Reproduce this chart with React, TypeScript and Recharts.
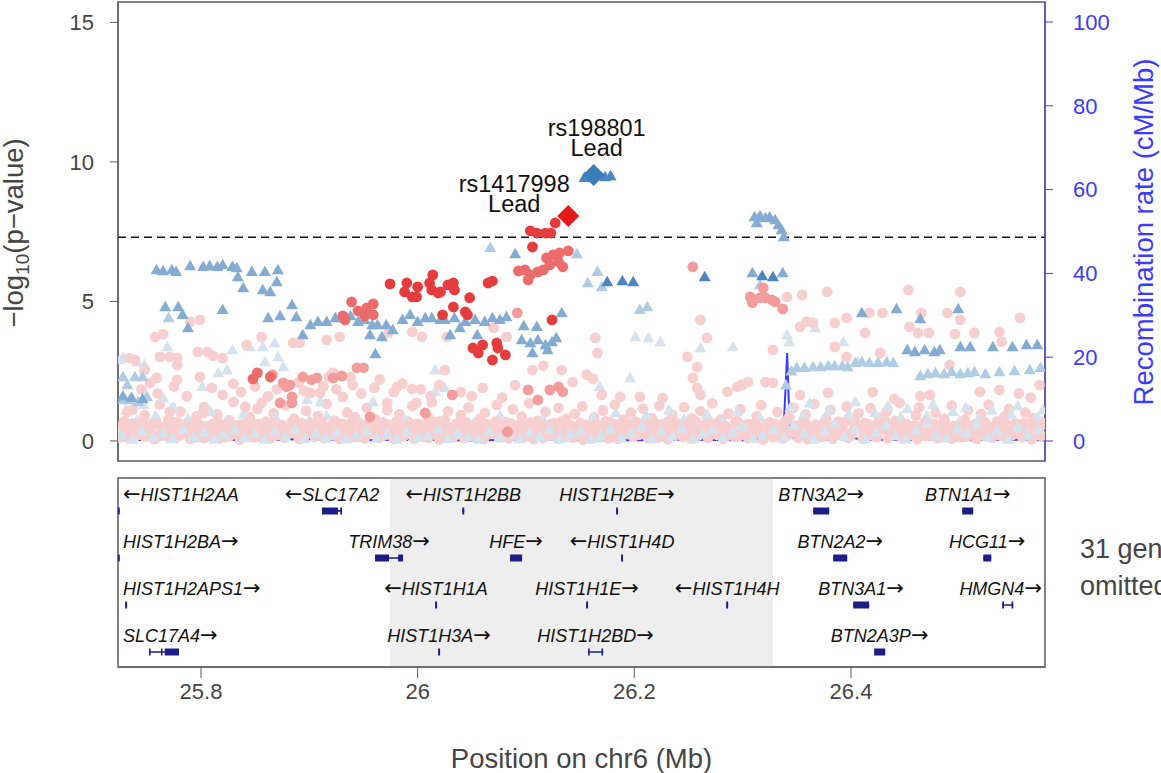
import React from 'react';
import {
  ComposedChart,
  Scatter,
  Line,
  XAxis,
  YAxis,
  ReferenceLine,
  ReferenceArea,
} from 'recharts';

// ---- region / axes ----
const X_DOMAIN = [25.7234, 26.5791]; // Mb on chr6
const X_TICKS = [25.8, 26, 26.2, 26.4];
const P_TICKS = [0, 5, 10, 15];
const RATE_TICKS = [0, 20, 40, 60, 80, 100];
const P_DOMAIN = [-0.72, 15.73];
const RATE_DOMAIN = [-4.77, 104.77];
const GW_THRESHOLD = 7.3;
const HIGHLIGHT = [25.9745, 26.328];
const OMITTED_GENES = 31;

// ---- SNPs in LD with rs198801 (triangles), [position Mb, -log10 p] ----
const BLUE_DARK = [
  [26.154, 9.43], [26.173, 9.46], [26.178, 9.5], [26.175, 5.7], [26.189, 5.73],
  [26.199, 5.7], [26.265, 5.88], [26.318, 5.91], [26.328, 5.88],
];
const BLUE_MED = [
  [25.759, 6.13], [25.765, 6.09], [25.773, 6.13], [25.777, 6.06], [25.79, 6.27],
  [25.802, 6.24], [25.808, 6.27], [25.815, 6.24], [25.82, 6.31], [25.829, 6.24],
  [25.833, 6.2], [25.847, 6.06], [25.859, 6.06], [25.871, 6.13], [25.834, 5.88],
  [25.839, 5.48], [25.857, 5.41], [25.864, 5.34], [25.87, 5.7], [25.767, 4.8],
  [25.779, 4.8], [25.783, 4.52], [25.82, 4.7], [25.788, 4.05],
  [25.862, 4.41], [25.873, 4.48], [25.884, 4.87], [25.888, 4.44], [25.901, 4.16],
  [25.908, 4.27], [25.916, 4.27], [25.924, 4.41], [25.928, 4.41], [25.938, 4.48],
  [25.945, 4.27], [25.951, 4.34], [25.958, 4.16], [25.963, 4.16], [25.971, 4.16],
  [25.977, 3.98], [25.986, 4.34], [25.993, 4.52], [26.0, 4.27], [26.007, 4.41],
  [26.013, 4.41], [26.021, 4.34], [25.894, 3.8], [25.956, 3.8], [25.967, 3.73],
  [25.961, 3.12], [26.025, 4.34], [26.034, 4.41], [26.044, 4.27], [26.053, 4.34],
  [26.062, 4.27], [26.069, 4.41], [26.076, 4.34], [26.082, 4.44], [26.03, 3.8],
  [26.055, 3.8], [26.039, 4.05], [26.098, 4.12], [26.11, 4.09], [26.096, 3.62],
  [26.104, 3.51], [26.111, 3.62], [26.118, 3.44], [26.124, 3.55], [26.128, 3.69],
  [26.12, 3.26], [26.106, 3.15], [26.133, 4.59], [26.09, 6.7],
  [26.311, 8.03], [26.316, 8.06], [26.321, 7.99], [26.325, 8.03], [26.33, 7.92],
  [26.333, 7.74], [26.336, 7.56], [26.338, 7.31], [26.313, 7.81], [26.309, 6.02],
  [26.337, 6.02],
  [26.452, 3.26], [26.459, 3.19], [26.468, 3.26], [26.477, 3.19], [26.482, 3.26],
  [26.501, 3.37], [26.51, 3.37], [26.531, 3.37], [26.549, 3.37], [26.562, 3.44],
  [26.572, 3.44], [26.41, 4.59], [26.442, 4.73], [26.464, 4.37], [26.499, 4.73],
  [25.728, 1.6], [25.736, 1.55], [25.746, 1.5],
];
const BLUE_LIGHT = [
  [25.77, 4.41], [26.067, 6.92], [26.147, 6.7], [26.166, 6.06], [26.157, 5.66],
  [26.17, 5.52], [26.205, 4.7], [26.212, 4.8], [26.316, 5.59],
  [25.728, 2.29], [25.739, 2.29], [25.746, 2.29], [25.732, 2.01], [25.728, 1.47],
  [25.734, 1.47], [25.742, 1.4], [25.75, 1.58],
  [26.35, 2.62], [26.357, 2.62], [26.365, 2.65], [26.372, 2.65], [26.379, 2.69],
  [26.385, 2.69], [26.392, 2.69], [26.397, 2.65], [26.404, 2.8], [26.41, 2.83],
  [26.417, 2.8], [26.425, 2.8], [26.433, 2.83], [26.439, 2.8], [26.464, 2.33],
  [26.471, 2.4], [26.478, 2.44], [26.486, 2.4], [26.493, 2.47], [26.501, 2.4],
  [26.508, 2.44], [26.514, 2.47], [26.524, 2.4], [26.537, 2.47], [26.551, 2.51],
  [26.565, 2.54], [26.575, 2.62], [26.34, 2.0], [26.345, 2.5],
];
const BLUE_PALE = [
  [25.728, 2.97], [25.741, 2.83], [25.748, 2.72], [25.769, 3.37], [25.829, 3.26],
  [25.845, 3.37], [25.857, 3.37], [25.868, 3.51], [25.859, 2.83], [25.871, 3.01],
  [25.876, 2.65], [25.824, 2.54], [25.816, 2.44], [26.016, 2.54], [25.801, 1.94],
  [25.765, 1.54], [25.773, 1.18], [25.898, 1.47], [25.91, 1.4], [25.959, 1.4],
  [26.016, 1.76], [26.201, 3.73], [26.213, 3.69], [26.224, 3.55], [26.261, 3.33],
  [26.291, 3.37], [26.367, 4.05], [26.341, 3.8], [26.343, 3.55], [26.393, 3.55],
  [26.406, 2.83], [26.196, 2.26], [26.168, 1.94], [26.025, 1.9], [25.725, 2.9],
];
const BLUE_PALE_BAND = [
  [25.726, 0.45], [25.731, 1.1], [25.736, 0.2], [25.741, 0.75], [25.747, 1.3],
  [25.752, 0.35], [25.758, 0.9], [25.763, 0.15], [25.769, 0.6], [25.775, 1.2],
  [25.781, 0.3], [25.788, 0.8], [25.795, 0.1], [25.802, 0.55], [25.809, 1.05],
  [25.816, 0.25], [25.824, 0.7], [25.831, 0.4], [25.839, 0.95], [25.846, 0.15],
  [25.854, 0.62], [25.861, 0.3], [25.869, 0.85], [25.876, 0.2], [25.884, 0.5],
  [25.892, 0.12], [25.9, 0.72], [25.908, 0.28], [25.916, 0.9], [25.924, 0.18],
  [25.932, 0.45], [25.94, 0.1], [25.948, 0.66], [25.956, 0.32], [25.964, 0.15],
  [25.972, 0.58], [25.98, 0.22], [25.988, 0.8], [25.996, 0.12], [26.004, 0.4],
  [26.012, 0.25], [26.02, 0.7], [26.028, 0.1], [26.036, 0.48], [26.044, 0.2],
  [26.052, 0.65], [26.06, 0.14], [26.068, 0.38], [26.076, 0.9], [26.084, 0.2],
  [26.092, 0.55], [26.1, 0.12], [26.108, 0.3], [26.116, 0.75], [26.124, 0.16],
  [26.132, 0.45], [26.14, 0.1], [26.148, 0.62], [26.155, 0.28], [26.162, 0.85],
  [26.169, 0.15], [26.176, 0.5], [26.183, 1.0], [26.19, 0.22], [26.197, 0.68],
  [26.204, 0.35], [26.211, 0.9], [26.218, 0.14], [26.225, 0.6], [26.232, 1.1],
  [26.239, 0.3], [26.246, 0.78], [26.253, 0.18], [26.26, 0.52], [26.267, 0.95],
  [26.274, 0.25], [26.281, 0.7], [26.288, 0.4], [26.295, 1.05], [26.302, 0.2],
  [26.309, 0.6], [26.316, 0.85], [26.323, 0.32], [26.33, 0.12], [26.337, 0.7],
  [26.344, 1.2], [26.35, 0.45], [26.356, 0.9], [26.362, 1.35], [26.368, 0.3],
  [26.374, 0.75], [26.38, 1.1], [26.386, 0.5], [26.392, 0.2], [26.398, 0.95],
  [26.404, 1.4], [26.41, 0.6], [26.416, 0.25], [26.422, 1.0], [26.428, 0.7],
  [26.434, 1.25], [26.44, 0.35], [26.446, 0.85], [26.452, 1.15], [26.458, 0.45],
  [26.464, 0.15], [26.47, 0.9], [26.476, 1.3], [26.482, 0.55], [26.488, 0.25],
  [26.494, 1.05], [26.5, 0.7], [26.506, 1.2], [26.512, 0.4], [26.518, 0.8],
  [26.524, 0.18], [26.53, 1.1], [26.536, 0.6], [26.542, 0.3], [26.548, 0.95],
  [26.554, 1.25], [26.56, 0.5], [26.566, 0.2], [26.572, 0.85], [26.577, 1.1],
];
const BLUE_PALE_FLOOR = [
  [25.727, 0.2], [25.737, 0.05], [25.746, 0.35], [25.756, 0.12], [25.765, 0.28],
  [25.774, 0.08], [25.784, 0.4], [25.793, 0.15], [25.803, 0.3], [25.812, 0.06],
  [25.821, 0.22], [25.831, 0.38], [25.84, 0.1], [25.85, 0.26], [25.859, 0.05],
  [25.868, 0.33], [25.878, 0.14], [25.887, 0.42], [25.896, 0.08], [25.906, 0.24],
  [25.915, 0.1], [25.925, 0.3], [25.934, 0.06], [25.943, 0.2], [25.953, 0.36],
  [25.962, 0.09], [25.972, 0.25], [25.981, 0.05], [25.99, 0.32], [26.0, 0.12],
  [26.009, 0.18], [26.019, 0.4], [26.028, 0.07], [26.037, 0.27], [26.047, 0.13],
  [26.056, 0.05], [26.066, 0.34], [26.075, 0.1], [26.084, 0.22], [26.094, 0.06],
  [26.103, 0.3], [26.113, 0.15], [26.122, 0.4], [26.131, 0.08], [26.141, 0.25],
  [26.15, 0.35], [26.16, 0.05], [26.169, 0.2], [26.178, 0.42], [26.188, 0.1],
  [26.197, 0.28], [26.207, 0.5], [26.216, 0.07], [26.225, 0.32], [26.235, 0.16],
  [26.244, 0.45], [26.254, 0.06], [26.263, 0.24], [26.272, 0.38], [26.282, 0.11],
  [26.291, 0.3], [26.3, 0.52], [26.31, 0.08], [26.319, 0.2], [26.329, 0.4],
  [26.338, 0.12], [26.347, 0.55], [26.357, 0.25], [26.366, 0.05], [26.376, 0.35],
  [26.385, 0.6], [26.394, 0.15], [26.404, 0.42], [26.413, 0.08], [26.423, 0.3],
  [26.432, 0.55], [26.441, 0.18], [26.451, 0.05], [26.46, 0.38], [26.47, 0.62],
  [26.479, 0.2], [26.488, 0.1], [26.498, 0.45], [26.507, 0.28], [26.516, 0.6],
  [26.526, 0.12], [26.535, 0.35], [26.545, 0.05], [26.554, 0.5], [26.563, 0.22],
  [26.573, 0.4],
];

// ---- SNPs in LD with rs1417998 (circles) ----
const RED_STRONG = [
  [25.9745, 5.63], [25.99, 5.66], [25.988, 5.34], [25.995, 5.16], [26.0, 5.52],
  [25.999, 5.16], [26.011, 5.66], [26.014, 5.95], [26.013, 5.41], [26.019, 5.3],
  [26.021, 5.34], [26.028, 5.59], [26.033, 5.66], [26.034, 5.41], [26.048, 5.13],
  [26.065, 5.66], [26.069, 5.73], [26.033, 4.8], [26.023, 4.52], [26.044, 4.62],
  [26.046, 4.52], [26.051, 3.33], [26.056, 3.15], [26.06, 3.44], [26.073, 3.51],
  [26.074, 3.33], [26.081, 3.08], [26.069, 2.9], [26.124, 4.34], [26.104, 7.53],
  [26.11, 7.45], [26.118, 7.45], [26.123, 7.45], [26.127, 7.81], [26.106, 6.95],
];
const RED_MED = [
  [25.939, 4.98], [25.945, 4.66], [25.953, 4.77], [25.959, 4.91], [25.959, 4.52],
  [25.951, 4.48], [25.931, 4.48], [25.933, 4.34], [26.093, 6.09], [26.099, 6.13],
  [26.104, 5.95], [26.111, 6.06], [26.116, 6.13], [26.119, 6.56], [26.125, 6.67],
  [26.131, 6.74], [26.139, 6.81], [26.122, 6.31], [26.13, 6.42], [26.134, 6.24],
  [26.102, 5.77], [25.848, 2.22], [25.852, 2.44], [25.864, 2.29],
];
const RED_LIGHT = [
  [25.944, 2.62], [25.95, 2.62], [25.866, 2.37], [25.876, 2.08], [25.879, 1.94],
  [25.884, 1.58], [25.882, 2.01], [25.894, 2.29], [25.902, 2.19], [25.907, 2.26],
  [25.922, 2.26], [25.93, 2.33], [25.873, 1.36], [25.884, 1.36], [25.956, 0.86],
  [26.007, 1.0], [26.032, 1.65], [26.102, 1.83], [26.111, 1.47], [26.122, 1.83],
  [26.13, 1.94], [26.134, 1.76], [26.092, 4.59], [26.083, 0.32], [26.254, 6.24],
  [26.307, 5.16], [26.309, 4.95], [26.316, 5.13], [26.321, 5.13], [26.327, 5.05],
  [26.33, 4.98], [26.319, 5.48], [26.337, 4.73],
];
const PINK = [
  [25.79, 4.27], [25.799, 4.34], [25.758, 3.73], [25.765, 3.83], [25.762, 3.01],
  [25.771, 3.01], [25.778, 2.97], [25.778, 2.72], [25.734, 2.97], [25.797, 3.19],
  [25.806, 3.19], [25.811, 3.05], [25.82, 2.97], [25.856, 3.73], [25.842, 3.44],
  [25.885, 3.51], [25.891, 3.51], [25.916, 3.62], [25.928, 3.73], [25.973, 3.87],
  [25.995, 3.91], [26.004, 3.73], [25.799, 2.29], [25.778, 2.19], [25.759, 2.26],
  [25.753, 2.08], [25.981, 1.94], [25.995, 1.86], [25.922, 2.44], [25.938, 2.29],
  [25.901, 1.72], [25.856, 1.36], [25.841, 1.22], [25.802, 1.0], [25.771, 1.04],
  [25.732, 1.04], [25.91, 1.72], [25.931, 1.58], [25.972, 1.36], [25.999, 1.36],
  [26.164, 3.69], [26.166, 3.15], [26.156, 2.37], [26.162, 2.22], [26.143, 2.11],
  [26.106, 2.54], [26.116, 2.69], [26.133, 2.54], [26.261, 4.34], [26.267, 3.69],
  [26.249, 3.01], [26.258, 2.65], [26.254, 2.26], [26.258, 1.9], [26.261, 1.65],
  [26.17, 1.65], [26.187, 1.58], [26.205, 1.58], [26.226, 1.54], [26.286, 1.76],
  [26.295, 1.94], [26.3, 2.01], [26.305, 2.11], [26.025, 2.54], [26.027, 3.73],
  [26.07, 4.05], [26.082, 3.73],
  [26.378, 5.34], [26.453, 5.41], [26.501, 5.34], [26.355, 5.23], [26.341, 5.16],
  [26.396, 4.41], [26.417, 4.59], [26.429, 4.59], [26.465, 4.59], [26.489, 4.59],
  [26.501, 4.34], [26.556, 4.41], [26.359, 4.27], [26.365, 4.23], [26.353, 4.09],
  [26.385, 4.23], [26.413, 3.87], [26.454, 4.09], [26.462, 3.87], [26.472, 3.87],
  [26.496, 3.83], [26.514, 3.87], [26.537, 3.91], [26.539, 3.55], [26.427, 3.15],
  [26.396, 3.01], [26.385, 3.37], [26.328, 3.26], [26.328, 2.08], [26.321, 2.11],
  [26.299, 2.01], [26.379, 1.72], [26.491, 2.72], [26.519, 1.76], [26.537, 1.83],
  [26.353, 1.65], [25.739, 2.9], [25.748, 2.54], [26.464, 1.6], [26.473, 1.65],
  [26.555, 1.7], [26.566, 1.55], [26.574, 2.0], [26.42, 1.75], [26.44, 1.5],
  [25.745, 1.85], [25.76, 1.7], [25.775, 1.95], [25.787, 1.6], [25.81, 1.9],
  [25.82, 1.65], [25.83, 2.05], [25.837, 1.75], [25.85, 1.95], [25.862, 1.6],
  [25.87, 1.85], [25.89, 2.1], [25.895, 1.8], [25.913, 1.95], [25.918, 2.3],
  [25.925, 1.85], [25.94, 2.0], [25.948, 1.7], [25.96, 1.9], [25.965, 2.2],
  [25.978, 1.75], [25.986, 2.05], [26.003, 1.85], [26.012, 1.6], [26.02, 2.0],
  [26.04, 1.75], [26.05, 1.6], [26.06, 1.9], [26.078, 1.55], [26.09, 2.0],
];
const PINK_BAND = [
  [25.726, 0.22], [25.729, 0.71], [25.733, 0.35], [25.737, 1.12], [25.74, 0.18],
  [25.744, 0.52], [25.748, 0.93], [25.751, 0.27], [25.755, 0.64], [25.759, 0.12],
  [25.762, 1.31], [25.766, 0.41], [25.77, 0.78], [25.773, 0.2], [25.777, 0.55],
  [25.781, 1.05], [25.785, 0.3], [25.788, 0.67], [25.792, 0.15], [25.796, 0.88],
  [25.8, 0.44], [25.803, 1.22], [25.807, 0.25], [25.811, 0.6], [25.815, 0.95],
  [25.818, 0.33], [25.822, 0.14], [25.826, 0.74], [25.83, 1.4], [25.833, 0.38],
  [25.837, 0.58], [25.841, 0.21], [25.845, 0.86], [25.848, 0.47], [25.852, 1.15],
  [25.856, 0.16], [25.86, 0.69], [25.863, 0.36], [25.867, 0.99], [25.871, 0.24],
  [25.875, 0.57], [25.878, 1.27], [25.882, 0.42], [25.886, 0.8], [25.89, 0.13],
  [25.893, 0.63], [25.897, 1.08], [25.901, 0.29], [25.905, 0.51], [25.908, 0.9],
  [25.912, 0.19], [25.916, 1.33], [25.92, 0.46], [25.923, 0.73], [25.927, 0.23],
  [25.931, 0.61], [25.935, 1.02], [25.938, 0.34], [25.942, 0.85], [25.946, 0.17],
  [25.95, 0.56], [25.953, 1.19], [25.957, 0.4], [25.961, 0.77], [25.965, 0.26],
  [25.968, 0.66], [25.972, 1.1], [25.976, 0.31], [25.98, 0.53], [25.983, 0.96],
  [25.987, 0.2], [25.991, 0.7], [25.995, 1.25], [25.998, 0.37], [26.002, 0.6],
  [26.006, 0.15], [26.01, 0.83], [26.013, 1.38], [26.017, 0.43], [26.021, 0.28],
  [26.025, 0.75], [26.028, 1.06], [26.032, 0.18], [26.036, 0.59], [26.04, 0.92],
  [26.043, 0.32], [26.047, 1.2], [26.051, 0.5], [26.055, 0.22], [26.058, 0.8],
  [26.062, 1.0], [26.066, 0.35], [26.07, 0.62], [26.073, 1.29], [26.077, 0.14],
  [26.081, 0.68], [26.085, 0.45], [26.088, 1.13], [26.092, 0.27], [26.096, 0.87],
  [26.1, 0.54], [26.103, 1.35], [26.107, 0.2], [26.111, 0.72], [26.115, 0.39],
  [26.118, 1.04], [26.122, 0.3], [26.126, 0.64], [26.13, 1.18], [26.133, 0.16],
  [26.137, 0.79], [26.141, 0.48], [26.145, 0.97], [26.148, 0.25], [26.152, 1.24],
  [26.156, 0.57], [26.16, 0.12], [26.163, 0.84], [26.167, 0.4], [26.171, 1.09],
  [26.175, 0.29], [26.178, 0.66], [26.182, 1.3], [26.186, 0.21], [26.19, 0.76],
  [26.193, 0.5], [26.197, 1.01], [26.201, 0.33], [26.205, 0.6], [26.208, 1.16],
  [26.212, 0.18], [26.216, 0.82], [26.22, 0.44], [26.223, 1.26], [26.227, 0.26],
  [26.231, 0.7], [26.235, 0.94], [26.238, 0.36], [26.242, 0.58], [26.246, 1.21],
  [26.25, 0.15], [26.253, 0.81], [26.257, 0.47], [26.261, 1.07], [26.265, 0.3],
  [26.268, 0.65], [26.272, 1.34], [26.276, 0.22], [26.28, 0.77], [26.283, 0.52],
  [26.287, 0.98], [26.291, 0.19], [26.295, 0.71], [26.298, 1.14], [26.302, 0.38],
  [26.306, 0.6], [26.31, 0.24], [26.313, 0.89], [26.317, 1.28], [26.321, 0.42],
  [26.325, 0.67], [26.328, 0.17], [26.332, 1.03], [26.336, 0.55], [26.34, 0.31],
  [26.343, 0.86], [26.347, 1.19], [26.351, 0.23], [26.355, 0.63], [26.358, 0.95],
  [26.362, 0.37], [26.366, 1.32], [26.37, 0.49], [26.373, 0.14], [26.377, 0.78],
  [26.381, 1.11], [26.385, 0.28], [26.388, 0.69], [26.392, 0.46], [26.396, 1.23],
  [26.4, 0.2], [26.403, 0.74], [26.407, 0.99], [26.411, 0.34], [26.415, 0.61],
  [26.418, 1.17], [26.422, 0.16], [26.426, 0.83], [26.43, 0.51], [26.433, 1.06],
  [26.437, 0.27], [26.441, 0.72], [26.445, 1.36], [26.448, 0.39], [26.452, 0.58],
  [26.456, 0.22], [26.46, 0.91], [26.463, 1.2], [26.467, 0.43], [26.471, 0.66],
  [26.475, 0.18], [26.478, 1.0], [26.482, 0.53], [26.486, 0.8], [26.49, 0.3],
  [26.493, 1.27], [26.497, 0.45], [26.501, 0.13], [26.505, 0.75], [26.508, 1.1],
  [26.512, 0.35], [26.516, 0.62], [26.52, 0.97], [26.523, 0.25], [26.527, 1.3],
  [26.531, 0.48], [26.535, 0.7], [26.538, 0.19], [26.542, 0.88], [26.546, 1.15],
  [26.55, 0.4], [26.553, 0.6], [26.557, 0.28], [26.561, 1.02], [26.565, 0.5],
  [26.568, 0.82], [26.572, 0.21], [26.576, 0.65],
];
const PINK_FLOOR = [
  [25.725, 0.12], [25.73, 0.38], [25.734, 0.08], [25.739, 0.27], [25.744, 0.45],
  [25.748, 0.15], [25.753, 0.33], [25.757, 0.06], [25.762, 0.22], [25.767, 0.41],
  [25.771, 0.1], [25.776, 0.3], [25.78, 0.18], [25.785, 0.44], [25.79, 0.07],
  [25.794, 0.25], [25.799, 0.36], [25.803, 0.11], [25.808, 0.2], [25.813, 0.42],
  [25.817, 0.09], [25.822, 0.31], [25.826, 0.16], [25.831, 0.39], [25.836, 0.05],
  [25.84, 0.24], [25.845, 0.35], [25.849, 0.13], [25.854, 0.28], [25.859, 0.46],
  [25.863, 0.08], [25.868, 0.19], [25.872, 0.37], [25.877, 0.12], [25.882, 0.29],
  [25.886, 0.43], [25.891, 0.06], [25.895, 0.23], [25.9, 0.34], [25.905, 0.14],
  [25.909, 0.4], [25.914, 0.1], [25.918, 0.26], [25.923, 0.45], [25.928, 0.07],
  [25.932, 0.21], [25.937, 0.32], [25.941, 0.15], [25.946, 0.38], [25.951, 0.09],
  [25.955, 0.27], [25.96, 0.44], [25.964, 0.11], [25.969, 0.2], [25.974, 0.36],
  [25.978, 0.06], [25.983, 0.3], [25.987, 0.17], [25.992, 0.41], [25.997, 0.08],
  [26.001, 0.24], [26.006, 0.33], [26.01, 0.12], [26.015, 0.39], [26.02, 0.05],
  [26.024, 0.22], [26.029, 0.43], [26.033, 0.14], [26.038, 0.28], [26.043, 0.1],
  [26.047, 0.35], [26.052, 0.19], [26.056, 0.46], [26.061, 0.07], [26.066, 0.25],
  [26.07, 0.31], [26.075, 0.13], [26.079, 0.4], [26.084, 0.09], [26.089, 0.21],
  [26.093, 0.37], [26.098, 0.16], [26.102, 0.29], [26.107, 0.06], [26.112, 0.42],
  [26.116, 0.11], [26.121, 0.26], [26.125, 0.34], [26.13, 0.08], [26.135, 0.2],
  [26.139, 0.45], [26.144, 0.13], [26.148, 0.3], [26.153, 0.05], [26.158, 0.38],
  [26.162, 0.17], [26.167, 0.23], [26.171, 0.41], [26.176, 0.1], [26.181, 0.32],
  [26.185, 0.07], [26.19, 0.27], [26.194, 0.44], [26.199, 0.15], [26.204, 0.22],
  [26.208, 0.36], [26.213, 0.09], [26.217, 0.29], [26.222, 0.12], [26.227, 0.4],
  [26.231, 0.06], [26.236, 0.24], [26.24, 0.33], [26.245, 0.14], [26.25, 0.43],
  [26.254, 0.08], [26.259, 0.2], [26.263, 0.35], [26.268, 0.11], [26.273, 0.28],
  [26.277, 0.46], [26.282, 0.07], [26.286, 0.19], [26.291, 0.31], [26.296, 0.16],
  [26.3, 0.39], [26.305, 0.1], [26.309, 0.25], [26.314, 0.42], [26.319, 0.05],
  [26.323, 0.3], [26.328, 0.13], [26.332, 0.37], [26.337, 0.09], [26.342, 0.21],
  [26.346, 0.34], [26.351, 0.12], [26.355, 0.44], [26.36, 0.06], [26.365, 0.26],
  [26.369, 0.32], [26.374, 0.15], [26.378, 0.4], [26.383, 0.08], [26.388, 0.23],
  [26.392, 0.36], [26.397, 0.11], [26.401, 0.29], [26.406, 0.45], [26.411, 0.07],
  [26.415, 0.18], [26.42, 0.33], [26.424, 0.14], [26.429, 0.41], [26.434, 0.09],
  [26.438, 0.27], [26.443, 0.38], [26.447, 0.12], [26.452, 0.22], [26.457, 0.43],
  [26.461, 0.06], [26.466, 0.3], [26.47, 0.17], [26.475, 0.35], [26.48, 0.1],
  [26.484, 0.24], [26.489, 0.46], [26.493, 0.08], [26.498, 0.2], [26.503, 0.31],
  [26.507, 0.15], [26.512, 0.39], [26.516, 0.07], [26.521, 0.26], [26.526, 0.42],
  [26.53, 0.12], [26.535, 0.28], [26.539, 0.34], [26.544, 0.09], [26.549, 0.21],
  [26.553, 0.44], [26.558, 0.13], [26.562, 0.3], [26.567, 0.06], [26.572, 0.37],
  [26.576, 0.18],
];
const PINK_FLOOR_2 = [
  [25.7275, 0.55], [25.732, 0.2], [25.7365, 0.62], [25.7415, 0.4], [25.746, 0.7],
  [25.7505, 0.5], [25.755, 0.25], [25.7595, 0.6], [25.7645, 0.35], [25.769, 0.58],
  [25.7735, 0.48], [25.778, 0.68], [25.7825, 0.3], [25.787, 0.55], [25.792, 0.42],
  [25.7965, 0.65], [25.801, 0.2], [25.8055, 0.52], [25.8105, 0.38], [25.815, 0.7],
  [25.8195, 0.45], [25.824, 0.6], [25.8285, 0.28], [25.8335, 0.56], [25.838, 0.46],
  [25.8425, 0.66], [25.847, 0.32], [25.8515, 0.6], [25.8565, 0.22], [25.861, 0.5],
  [25.8655, 0.64], [25.87, 0.4], [25.8745, 0.55], [25.8795, 0.3], [25.884, 0.68],
  [25.8885, 0.48], [25.893, 0.58], [25.8975, 0.26], [25.9025, 0.62], [25.907, 0.44],
  [25.9115, 0.7], [25.916, 0.36], [25.9205, 0.54], [25.9255, 0.22], [25.93, 0.6],
  [25.9345, 0.5], [25.939, 0.66], [25.9435, 0.3], [25.9485, 0.56], [25.953, 0.42],
  [25.9575, 0.64], [25.962, 0.27], [25.9665, 0.52], [25.9715, 0.6], [25.976, 0.4],
  [25.9805, 0.7], [25.985, 0.33], [25.9895, 0.56], [25.9945, 0.47], [25.999, 0.62],
  [26.0035, 0.25], [26.008, 0.58], [26.0125, 0.45], [26.0175, 0.68], [26.022, 0.35],
  [26.0265, 0.55], [26.031, 0.3], [26.0355, 0.62], [26.0405, 0.48], [26.045, 0.66],
  [26.0495, 0.24], [26.054, 0.57], [26.0585, 0.4], [26.0635, 0.6], [26.068, 0.5],
  [26.0725, 0.7], [26.077, 0.34], [26.0815, 0.52], [26.0865, 0.62], [26.091, 0.28],
  [26.0955, 0.55], [26.1, 0.44], [26.1045, 0.66], [26.1095, 0.36], [26.114, 0.58],
  [26.1185, 0.22], [26.123, 0.6], [26.1275, 0.5], [26.1325, 0.68], [26.137, 0.32],
  [26.1415, 0.56], [26.146, 0.42], [26.1505, 0.64], [26.1555, 0.27], [26.16, 0.54],
  [26.1645, 0.6], [26.169, 0.38], [26.1735, 0.7], [26.1785, 0.46], [26.183, 0.58],
  [26.1875, 0.3], [26.192, 0.62], [26.1965, 0.44], [26.2015, 0.68], [26.206, 0.25],
  [26.2105, 0.55], [26.215, 0.48], [26.2195, 0.64], [26.2245, 0.34], [26.229, 0.58],
  [26.2335, 0.4], [26.238, 0.66], [26.2425, 0.22], [26.2475, 0.56], [26.252, 0.5],
  [26.2565, 0.7], [26.261, 0.36], [26.2655, 0.6], [26.2705, 0.45], [26.275, 0.62],
  [26.2795, 0.28], [26.284, 0.54], [26.2885, 0.42], [26.2935, 0.68], [26.298, 0.33],
  [26.3025, 0.58], [26.307, 0.48], [26.3115, 0.65], [26.3165, 0.24], [26.321, 0.56],
  [26.3255, 0.4], [26.33, 0.6], [26.3345, 0.5], [26.3395, 0.7], [26.344, 0.35],
  [26.3485, 0.55], [26.353, 0.44], [26.3575, 0.66], [26.3625, 0.27], [26.367, 0.58],
  [26.3715, 0.46], [26.376, 0.62], [26.3805, 0.32], [26.3855, 0.56], [26.39, 0.4],
  [26.3945, 0.68], [26.399, 0.25], [26.4035, 0.6], [26.4085, 0.48], [26.413, 0.64],
  [26.4175, 0.36], [26.422, 0.55], [26.4265, 0.42], [26.4315, 0.7], [26.436, 0.3],
  [26.4405, 0.58], [26.445, 0.5], [26.4495, 0.62], [26.4545, 0.23], [26.459, 0.56],
  [26.4635, 0.44], [26.468, 0.66], [26.4725, 0.34], [26.4775, 0.6], [26.482, 0.4],
  [26.4865, 0.68], [26.491, 0.28], [26.4955, 0.54], [26.5005, 0.46], [26.505, 0.62],
  [26.5095, 0.33], [26.514, 0.58], [26.5185, 0.42], [26.5235, 0.66], [26.528, 0.26],
  [26.5325, 0.55], [26.537, 0.48], [26.5415, 0.7], [26.546, 0.36], [26.5505, 0.6],
  [26.5555, 0.44], [26.56, 0.64], [26.5645, 0.3], [26.569, 0.56], [26.5735, 0.47],
  [26.578, 0.6],
];

// ---- lead SNPs ----
const LEAD_RED = { snp: 'rs1417998', pos: 26.139, logp: 8.06 };
const LEAD_BLUE = { snp: 'rs198801', pos: 26.1625, logp: 9.53 };

// ---- recombination rate, [position Mb, cM/Mb] ----
const RECOMB = [
  [25.7234, 0.2], [25.76, 0.3], [25.782, 0.8], [25.786, 4.8], [25.79, 0.4],
  [25.85, 0.2], [25.9, 0.5], [25.95, 0.2], [26.0, 0.3], [26.05, 0.1],
  [26.1, 0.4], [26.15, 0.2], [26.2, 0.2], [26.25, 0.3], [26.3, 0.2],
  [26.3375, 1.0], [26.3395, 12], [26.3411, 21], [26.3425, 10], [26.344, 0.8],
  [26.38, 0.3], [26.4, 0.9], [26.41, 0.3], [26.45, 0.3], [26.5, 0.2],
  [26.55, 0.3], [26.5791, 0.2],
];

// ---- genes: name, strand, track row, span (Mb), exon blocks ----
const GENES = [
  { name: 'HIST1H2AA', strand: -1, row: 1, span: [25.7232, 25.725], exons: [[25.7232, 25.725]] },
  { name: 'SLC17A2', strand: -1, row: 1, span: [25.9117, 25.9302], exons: [[25.9117, 25.9265], [25.9285, 25.9302]] },
  { name: 'HIST1H2BB', strand: -1, row: 1, span: [26.0412, 26.043], exons: [[26.0412, 26.043]] },
  { name: 'HIST1H2BE', strand: 1, row: 1, span: [26.1832, 26.185], exons: [[26.1832, 26.185]] },
  { name: 'BTN3A2', strand: 1, row: 1, span: [26.3651, 26.3799], exons: [[26.3651, 26.3799]] },
  { name: 'BTN1A1', strand: 1, row: 1, span: [26.5027, 26.5128], exons: [[26.5027, 26.5128]] },
  { name: 'HIST1H2BA', strand: 1, row: 2, span: [25.7232, 25.725], exons: [[25.7232, 25.725]] },
  { name: 'TRIM38', strand: 1, row: 2, span: [25.9607, 25.9865], exons: [[25.9607, 25.9736], [25.982, 25.9865]] },
  { name: 'HFE', strand: 1, row: 2, span: [26.0853, 26.0964], exons: [[26.0853, 26.0964]] },
  { name: 'HIST1H4D', strand: -1, row: 2, span: [26.1878, 26.1896], exons: [[26.1878, 26.1896]] },
  { name: 'BTN2A2', strand: 1, row: 2, span: [26.3836, 26.3965], exons: [[26.3836, 26.3965]] },
  { name: 'HCG11', strand: 1, row: 2, span: [26.5221, 26.5295], exons: [[26.5221, 26.5295]] },
  { name: 'HIST1H2APS1', strand: 1, row: 3, span: [25.73, 25.7318], exons: [[25.73, 25.7318]] },
  { name: 'HIST1H1A', strand: -1, row: 3, span: [26.0161, 26.0179], exons: [[26.0161, 26.0179]] },
  { name: 'HIST1H1E', strand: 1, row: 3, span: [26.1555, 26.1573], exons: [[26.1555, 26.1573]] },
  { name: 'HIST1H4H', strand: -1, row: 3, span: [26.2848, 26.2866], exons: [[26.2848, 26.2866]] },
  { name: 'BTN3A1', strand: 1, row: 3, span: [26.402, 26.4168], exons: [[26.402, 26.4168]] },
  { name: 'HMGN4', strand: 1, row: 3, span: [26.5396, 26.5498], exons: [[26.5396, 26.5412], [26.5482, 26.5498]] },
  { name: 'SLC17A4', strand: 1, row: 4, span: [25.752, 25.7797], exons: [[25.752, 25.7535], [25.763, 25.7645], [25.7665, 25.7797]] },
  { name: 'HIST1H3A', strand: 1, row: 4, span: [26.0189, 26.0207], exons: [[26.0189, 26.0207]] },
  { name: 'HIST1H2BD', strand: 1, row: 4, span: [26.1573, 26.1712], exons: [[26.1573, 26.1588], [26.1697, 26.1712]] },
  { name: 'BTN2A3P', strand: 1, row: 4, span: [26.4214, 26.4316], exons: [[26.4214, 26.4316]] },
];
const GENE_ROWS = [1, 2, 3, 4];

// ---- styling ----
const FONT = '"Liberation Sans", Arial, Helvetica, sans-serif';
const ARROW_FONT = '"DejaVu Sans", sans-serif';
const AXIS_GRAY = '#5a5a5a';
const TEXT_GRAY = '#454545';
const RECOMB_BLUE = '#3b3bff';
const GENE_NAVY = '#1d1d87';
const COLORS = {
  redLead: '#e3191c',
  redStrong: '#e63c3d',
  redMed: '#ec6b6b',
  redLight: '#f29c9c',
  pink: '#f8cfcf',
  blueLead: '#3a7dbd',
  blueDark: '#4a86c0',
  blueMed: '#84acd3',
  blueLight: '#b0cce5',
  bluePale: '#d5e3ef',
};
const PLOT_LEFT = 118;
const PLOT_RIGHT = 1045;
const TITLE_SIZE = 27.5;
const UPPER_MARGIN = { top: 2, right: 16, bottom: 9, left: 18 };

const toPts = (arr: number[][]) => arr.map(([x, y]) => ({ x, y }));

const makeDot = (fill: string) => (props: any) => {
  const { cx, cy } = props;
  if (cx == null || cy == null) return <g />;
  return <circle cx={cx} cy={cy} r={5.4} fill={fill} />;
};

const makeTri = (fill: string) => (props: any) => {
  const { cx, cy } = props;
  if (cx == null || cy == null) return <g />;
  return (
    <polygon
      points={`${cx},${cy - 6.2} ${cx - 6},${cy + 4.3} ${cx + 6},${cy + 4.3}`}
      fill={fill}
    />
  );
};

const makeLead = (fill: string, snp: string, dx: number, dy: number) => (props: any) => {
  const { cx, cy } = props;
  if (cx == null || cy == null) return <g />;
  const r = 11;
  return (
    <g>
      <polygon
        points={`${cx},${cy - r} ${cx + r},${cy} ${cx},${cy + r} ${cx - r},${cy}`}
        fill={fill}
      />
      <text x={cx + dx} y={cy + dy} textAnchor="middle" fontSize={23.5} fill="#111" fontFamily={FONT}>
        {snp}
      </text>
      <text x={cx + dx} y={cy + dy + 20} textAnchor="middle" fontSize={23.5} fill="#111" fontFamily={FONT}>
        Lead
      </text>
    </g>
  );
};

const UPPER_SERIES = [
  { key: 'pinkBand', data: PINK_BAND, shape: makeDot(COLORS.pink) },
  { key: 'paleBand', data: BLUE_PALE_BAND, shape: makeTri(COLORS.bluePale) },
  { key: 'pinkFloor2', data: PINK_FLOOR_2, shape: makeDot(COLORS.pink) },
  { key: 'pinkFloor', data: PINK_FLOOR, shape: makeDot(COLORS.pink) },
  { key: 'paleFloor', data: BLUE_PALE_FLOOR, shape: makeTri(COLORS.bluePale) },
  { key: 'pale', data: BLUE_PALE, shape: makeTri(COLORS.bluePale) },
  { key: 'pink', data: PINK, shape: makeDot(COLORS.pink) },
  { key: 'blueLight', data: BLUE_LIGHT, shape: makeTri(COLORS.blueLight) },
  { key: 'redLight', data: RED_LIGHT, shape: makeDot(COLORS.redLight) },
  { key: 'blueMed', data: BLUE_MED, shape: makeTri(COLORS.blueMed) },
  { key: 'redMed', data: RED_MED, shape: makeDot(COLORS.redMed) },
  { key: 'blueDark', data: BLUE_DARK, shape: makeTri(COLORS.blueDark) },
  { key: 'redStrong', data: RED_STRONG, shape: makeDot(COLORS.redStrong) },
];

function GeneLabel(props: any) {
  const { cx, cy, payload } = props;
  if (cx == null || cy == null) return <g />;
  const fs = 18;
  const w = (payload.name.length + 1.3) * fs * 0.7;
  let x = cx;
  let anchor: 'middle' | 'start' | 'end' = 'middle';
  if (cx - w / 2 < PLOT_LEFT + 5) {
    x = PLOT_LEFT + 5;
    anchor = 'start';
  } else if (cx + w / 2 > PLOT_RIGHT - 3) {
    x = PLOT_RIGHT - 3;
    anchor = 'end';
  }
  const arrow = (ch: string) => (
    <tspan fontFamily={ARROW_FONT} fontStyle="normal" fontSize={21}>{ch}</tspan>
  );
  return (
    <text x={x} y={cy - 10} textAnchor={anchor} fontSize={fs} fontStyle="italic" fill="#111" fontFamily={FONT}>
      {payload.strand < 0 && arrow('\u2190')}
      {payload.name}
      {payload.strand > 0 && arrow('\u2192')}
    </text>
  );
}

// one line per row; null rows break the line between genes
function rowSegments(row: number, useExons: boolean) {
  const out: any[] = [];
  GENES.filter((g) => g.row === row).forEach((g) => {
    const segs = useExons ? g.exons : [g.span];
    segs.forEach(([a, b]) => {
      out.push({ x: a, row });
      out.push({ x: b, row });
      out.push({ x: b + 0.00001, row: null });
    });
  });
  return out;
}

const leftLabel = () => (
  <text transform="translate(23,233) rotate(-90)" textAnchor="middle" fontSize={TITLE_SIZE} fill={TEXT_GRAY} fontFamily={FONT}>
    {'\u2212log'}
    <tspan fontSize={19} dy={6}>10</tspan>
    <tspan dy={-6}>{'(p\u2212value)'}</tspan>
  </text>
);

const rightLabel = () => (
  <text transform="translate(1153,232) rotate(-90)" textAnchor="middle" fontSize={TITLE_SIZE} fill={RECOMB_BLUE} fontFamily={FONT}>
    Recombination rate (cM/Mb)
  </text>
);

const bottomLabel = () => (
  <text x={581.5} y={298} textAnchor="middle" fontSize={TITLE_SIZE} fill={TEXT_GRAY} fontFamily={FONT}>
    Position on chr6 (Mb)
  </text>
);

export default function App() {
  const recombData = RECOMB.map(([x, r]) => ({ x, r }));
  const geneCentres = GENES.map((g) => ({ ...g, x: (g.span[0] + g.span[1]) / 2 }));

  return (
    <div
      style={{
        position: 'absolute',
        left: 0,
        top: 0,
        width: 1161,
        height: 773,
        overflow: 'hidden',
        background: '#fff',
        fontFamily: FONT,
      }}
    >
      {/* recombination rate, drawn behind the SNPs */}
      <div style={{ position: 'absolute', left: 0, top: 0 }}>
        <ComposedChart width={1161} height={470} margin={{ top: 2, right: 116, bottom: 9, left: 118 }}>
          <XAxis type="number" dataKey="x" domain={X_DOMAIN} allowDataOverflow hide />
          <YAxis yAxisId="r" type="number" domain={RATE_DOMAIN} allowDataOverflow hide />
          <Line
            yAxisId="r"
            data={recombData}
            dataKey="r"
            stroke={RECOMB_BLUE}
            strokeWidth={2}
            dot={false}
            isAnimationActive={false}
          />
        </ComposedChart>
      </div>

      {/* association panel */}
      <div style={{ position: 'absolute', left: 0, top: 0 }}>
        <ComposedChart width={1161} height={470} margin={UPPER_MARGIN}>
          <XAxis type="number" dataKey="x" domain={X_DOMAIN} allowDataOverflow hide />
          <YAxis
            yAxisId="p"
            type="number"
            domain={P_DOMAIN}
            allowDataOverflow
            ticks={P_TICKS}
            width={100}
            tickSize={8}
            tickMargin={16}
            stroke={AXIS_GRAY}
            tick={{ fill: TEXT_GRAY, fontSize: 22, fontFamily: FONT }}
            label={{ content: leftLabel }}
          />
          <YAxis
            yAxisId="r"
            orientation="right"
            type="number"
            domain={RATE_DOMAIN}
            allowDataOverflow
            ticks={RATE_TICKS}
            width={100}
            tickSize={8}
            tickMargin={20}
            stroke={RECOMB_BLUE}
            tick={{ fill: RECOMB_BLUE, fontSize: 22, fontFamily: FONT }}
            label={{ content: rightLabel }}
          />
          <ReferenceArea
            yAxisId="p"
            x1={X_DOMAIN[0]}
            x2={X_DOMAIN[1]}
            y1={P_DOMAIN[0]}
            y2={P_DOMAIN[1]}
            fill="none"
            stroke={AXIS_GRAY}
            strokeWidth={1.5}
          />
          {UPPER_SERIES.map((s) => (
            <Scatter
              key={s.key}
              yAxisId="p"
              data={toPts(s.data)}
              dataKey="y"
              shape={s.shape}
              isAnimationActive={false}
            />
          ))}
          <ReferenceLine yAxisId="p" y={GW_THRESHOLD} stroke="#111" strokeDasharray="8 5" strokeWidth={1.5} />
          <Scatter
            yAxisId="p"
            data={[{ x: LEAD_RED.pos, y: LEAD_RED.logp }]}
            dataKey="y"
            shape={makeLead(COLORS.redLead, LEAD_RED.snp, -54, -24)}
            isAnimationActive={false}
          />
          <Scatter
            yAxisId="p"
            data={[{ x: LEAD_BLUE.pos, y: LEAD_BLUE.logp }]}
            dataKey="y"
            shape={makeLead(COLORS.blueLead, LEAD_BLUE.snp, 3, -39)}
            isAnimationActive={false}
          />
        </ComposedChart>
      </div>

      {/* gene track */}
      <div style={{ position: 'absolute', left: 0, top: 470 }}>
        <ComposedChart width={1161} height={303} margin={{ top: 8, right: 116, bottom: 0, left: 118 }}>
          <XAxis
            type="number"
            dataKey="x"
            domain={X_DOMAIN}
            allowDataOverflow
            ticks={X_TICKS}
            interval={0}
            height={106}
            tickSize={11}
            tickMargin={5}
            stroke={AXIS_GRAY}
            tick={{ fill: TEXT_GRAY, fontSize: 22, fontFamily: FONT }}
            tickFormatter={(v: number) => String(v)}
            label={{ content: bottomLabel }}
          />
          <YAxis type="number" hide domain={[0.3, 4.32]} reversed allowDataOverflow />
          <ReferenceArea
            x1={X_DOMAIN[0]}
            x2={X_DOMAIN[1]}
            y1={0.3}
            y2={4.32}
            fill="none"
            stroke={AXIS_GRAY}
            strokeWidth={1.5}
          />
          {GENE_ROWS.map((row) => (
            <Line
              key={`intron-${row}`}
              data={rowSegments(row, false)}
              dataKey="row"
              stroke={GENE_NAVY}
              strokeWidth={1.6}
              dot={false}
              connectNulls={false}
              isAnimationActive={false}
            />
          ))}
          {GENE_ROWS.map((row) => (
            <Line
              key={`exon-${row}`}
              data={rowSegments(row, true)}
              dataKey="row"
              stroke={GENE_NAVY}
              strokeWidth={7}
              dot={false}
              connectNulls={false}
              isAnimationActive={false}
            />
          ))}
          <Scatter data={geneCentres} dataKey="row" shape={GeneLabel} isAnimationActive={false} />
          <ReferenceArea x1={HIGHLIGHT[0]} x2={HIGHLIGHT[1]} y1={0.3} y2={4.32} fill="#a9a9a9" fillOpacity={0.2} stroke="none" />
        </ComposedChart>
      </div>

      <svg style={{ position: 'absolute', left: 0, top: 0 }} width={1161} height={773} pointerEvents="none">
        <text x={1080} y={558} fontSize={27} fill={TEXT_GRAY} fontFamily={FONT}>
          {OMITTED_GENES} genes
        </text>
        <text x={1080} y={595} fontSize={27} fill={TEXT_GRAY} fontFamily={FONT}>
          omitted
        </text>
      </svg>
    </div>
  );
}
